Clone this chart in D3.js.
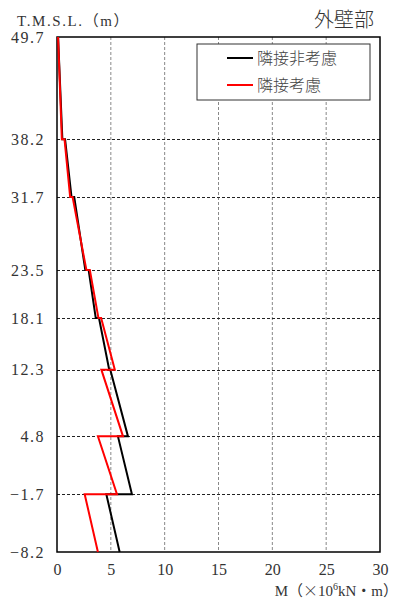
<!DOCTYPE html>
<html><head><meta charset="utf-8">
<script src="https://cdn.jsdelivr.net/npm/d3@7"></script>
<style>html,body{margin:0;padding:0;background:#fff;}svg{display:block;}</style>
</head><body>
<svg id="c" width="402" height="599"></svg>
<script>
// elevation tick labels (T.M.S.L. m)
const elevTicks = [49.7, 38.2, 31.7, 23.5, 18.1, 12.3, 4.8, -1.7, -8.2];
const xTicks = [0, 5, 10, 15, 20, 25, 30];
// segments: top elevation and bottom elevation
const segTop    = [49.7, 38.2, 31.7, 23.5, 18.1, 12.3, 4.8, -1.7];
const segBottom = [38.2, 31.7, 23.5, 18.1, 12.3, 4.8, -1.7, -8.2];
// 隣接非考慮 (black) moment at top / bottom of each segment
const blackTop    = [0.1, 0.75, 1.6, 2.94, 3.9, 4.95, 5.66, 4.58];
const blackBottom = [0.5, 1.35, 2.63, 3.6, 4.85, 6.59, 6.96, 5.82];
// 隣接考慮 (red)
const redTop    = [0.1, 0.7, 1.45, 3.05, 4.1, 4.12, 3.8, 2.57];
const redBottom = [0.45, 1.22, 2.73, 3.85, 5.37, 6.13, 5.57, 3.8];
const seriesNames = ["隣接非考慮", "隣接考慮"];
const seriesColors = ["#000000", "#ff0000"];

const svg = d3.select("#c");
const L = 57, R = 380, T = 37, B = 552;
const x = d3.scaleLinear().domain([0, 30]).range([L, R]);
const y = d3.scaleLinear().domain([-8.2, 49.7]).range([B, T]);
const numFont = "'Liberation Serif','Noto Sans CJK JP',serif";
const cjkFont = "'Noto Sans CJK JP'";

// vertical grid
svg.append("g").selectAll("line").data(xTicks.filter(v => v > 0 && v < 30)).join("line")
  .attr("x1", d => x(d)).attr("x2", d => x(d)).attr("y1", T).attr("y2", B)
  .attr("stroke", "#888").attr("stroke-width", 1).attr("stroke-dasharray", "3,2");
// horizontal grid
svg.append("g").selectAll("line").data(elevTicks.filter(v => v < 49.7 && v > -8.2)).join("line")
  .attr("x1", L).attr("x2", R).attr("y1", d => Math.round(y(d)) + 0.5).attr("y2", d => Math.round(y(d)) + 0.5)
  .attr("stroke", "#222").attr("stroke-width", 1).attr("stroke-dasharray", "3,2");

// frame
svg.append("rect").attr("x", L).attr("y", T).attr("width", R - L).attr("height", B - T)
  .attr("fill", "none").attr("stroke", "#000").attr("stroke-width", 1.5);

// axes labels
const yAxis = d3.axisLeft(y).tickValues(elevTicks).tickSize(0).tickPadding(12)
  .tickFormat(d => d3.format(".1f")(d).replace("-", "−"));
const gy = svg.append("g").attr("transform", `translate(${L},0)`).call(yAxis);
gy.select(".domain").remove();
gy.selectAll("text").attr("font-family", numFont).attr("font-size", 16).attr("fill", "#333")
  .attr("letter-spacing", "1.5px");

const xAxis = d3.axisBottom(x).tickValues(xTicks).tickSize(0).tickPadding(12).tickFormat(d3.format("d"));
const gx = svg.append("g").attr("transform", `translate(0,${B})`).call(xAxis);
gx.select(".domain").remove();
gx.selectAll("text").attr("font-family", numFont).attr("font-size", 16).attr("fill", "#333");

// lines
function pts(tops, bots) {
  const p = [];
  for (let i = 0; i < segTop.length; i++) {
    p.push([tops[i], segTop[i]]);
    p.push([bots[i], segBottom[i]]);
  }
  return p;
}
const line = d3.line().x(d => x(d[0])).y(d => y(d[1]));
const lines = [pts(blackTop, blackBottom), pts(redTop, redBottom)];
svg.append("g").selectAll("path").data(lines).join("path")
  .attr("d", line).attr("fill", "none")
  .attr("stroke", (d, i) => seriesColors[i]).attr("stroke-width", 2).attr("stroke-linejoin", "miter");

// legend
const lg = svg.append("g");
lg.append("rect").attr("x", 197).attr("y", 44).attr("width", 173).attr("height", 56)
  .attr("fill", "#fff").attr("stroke", "#333").attr("stroke-width", 1);
seriesNames.forEach((n, i) => {
  const yy = 58 + i * 27;
  lg.append("line").attr("x1", 227).attr("x2", 253).attr("y1", yy).attr("y2", yy)
    .attr("stroke", seriesColors[i]).attr("stroke-width", 2);
  lg.append("text").attr("x", 257).attr("y", yy + 6).text(n)
    .attr("font-family", cjkFont).attr("font-size", 16).attr("font-weight", 300).attr("fill", "#444");
});

// titles
svg.append("text").attr("x", 17).attr("y", 26).text("T.M.S.L.（m）")
  .attr("font-family", numFont).attr("font-size", 15).attr("fill", "#333").attr("letter-spacing", "1.6px");
svg.append("text").attr("x", 374).attr("y", 27).attr("text-anchor", "end").text("外壁部")
  .attr("font-family", cjkFont).attr("font-size", 20).attr("font-weight", 300).attr("fill", "#333");
svg.append("text").attr("x", 398).attr("y", 596).attr("text-anchor", "end")
  .attr("font-family", numFont).attr("font-size", 15).attr("fill", "#333")
  .call(t => {
    t.append("tspan").text("M（");
    t.append("tspan").attr("font-family", cjkFont).attr("font-weight", 300).text("×");
    t.append("tspan").text("10");
    t.append("tspan").attr("font-size", 10).attr("dy", -6).text("6");
    t.append("tspan").attr("dy", 6).text("kN・m）");
  });
</script>
</body></html>
